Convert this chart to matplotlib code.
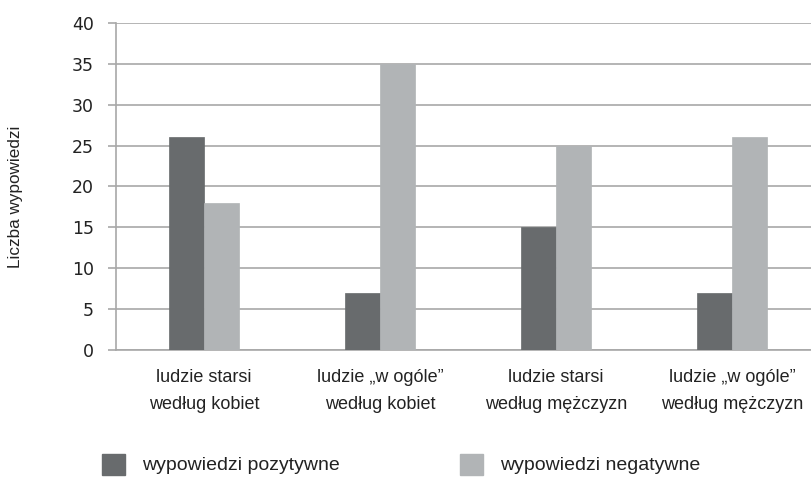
import matplotlib.pyplot as plt
import matplotlib.patches as mpatches
import numpy as np

categories = ['ludzie starsi\nwedług kobiet',
              'ludzie „w ogóle”\nwedług kobiet',
              'ludzie starsi\nwedług mężczyzn',
              'ludzie „w ogóle”\nwedług mężczyzn']
positive = [26, 7, 15, 7]
negative = [18, 35, 25, 26]
series_names = ['wypowiedzi pozytywne', 'wypowiedzi negatywne']

dark = '#686b6d'
light = '#b1b4b6'
grid_c = '#a8a8a8'
regular = ['Liberation Sans', 'DejaVu Sans']

fig = plt.figure(figsize=(8.12, 4.78), dpi=100)
ax = fig.add_axes([116 / 812, 128 / 478, 704 / 812, 327 / 478])

x = np.arange(len(categories))
w = 0.2
ax.bar(x - w / 2, positive, w, color=dark, edgecolor=dark, linewidth=0.5, zorder=3)
ax.bar(x + w / 2, negative, w, color=light, edgecolor=light, linewidth=0.5, zorder=3)

ax.set_xlim(-0.5, 3.5)
ax.set_ylim(0, 40)
ax.set_yticks(range(0, 41, 5))
ax.yaxis.grid(True, color=grid_c, linewidth=1.2, zorder=0)
for s in ['top', 'right']:
    ax.spines[s].set_visible(False)
for s in ['left', 'bottom']:
    ax.spines[s].set_color(grid_c)
    ax.spines[s].set_linewidth(1.2)
ax.tick_params(axis='y', length=6, width=1.2, color=grid_c, pad=10, labelsize=12.5,
               labelcolor='#222222')
for lab in ax.get_yticklabels():
    lab.set_family(['DejaVu Sans'])
ax.set_xticks(x)
ax.set_xticklabels(categories, family=regular, fontsize=13, color='#222222',
                   linespacing=1.75)
ax.tick_params(axis='x', length=0, pad=14)

fig.text(16 / 812, 1 - 197 / 478, 'Liczba wypowiedzi', rotation=90, va='center',
         ha='center', family=regular, fontsize=12.3, color='#222222')

# legend
for i, (name, col) in enumerate(zip(series_names, [dark, light])):
    x0 = [102, 460][i]
    fig.patches.append(mpatches.Rectangle((x0 / 812, 1 - 475 / 478), 23 / 812, 21 / 478,
                                          transform=fig.transFigure, color=col))
    fig.text((x0 + 40) / 812, 1 - 466 / 478, name, va='center', ha='left',
             family=regular, fontsize=14, color='#222222')

fig.savefig('out.png', dpi=100)
